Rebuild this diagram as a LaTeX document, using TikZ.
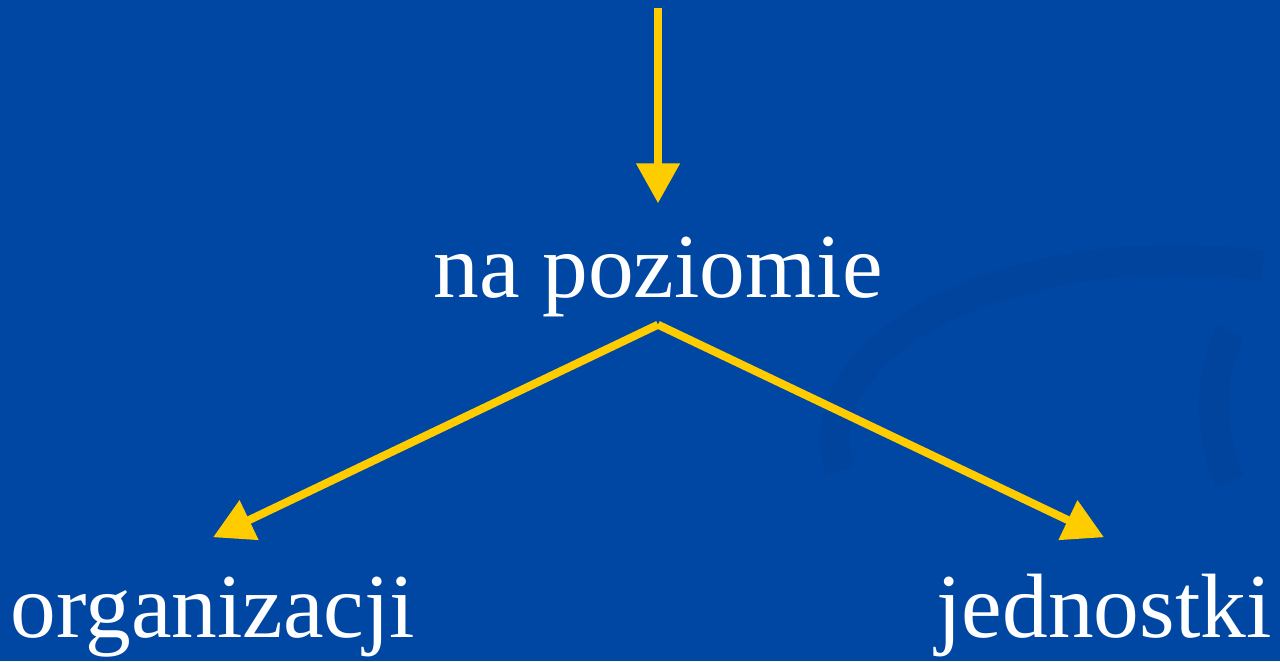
\documentclass[tikz,border=0pt]{standalone}
\usepackage{fontspec}
\setmainfont{Liberation Serif}
\usepackage{xcolor}
\usepackage{tikz}
\usetikzlibrary{arrows.meta,positioning}
\definecolor{slideblue}{HTML}{0047A3}
\definecolor{swooshblue}{HTML}{00449E}
\definecolor{arrowgold}{HTML}{FFCC00}

\begin{document}
\begin{tikzpicture}[
  lbl/.style={inner sep=0pt, anchor=base, text=white, text height=0.99cm,
              text depth=0.27cm, font=\fontsize{26}{30}\selectfont},
  arr/.style={-{Triangle[length=4mm, width=4.2mm]}, arrowgold, line width=0.08cm}]
\fill[slideblue] (0,0) rectangle (12.8,6.61);
\useasboundingbox (0,0) rectangle (12.8,6.61);
% faint swoosh in the background
\draw[swooshblue, line width=0.3cm] (8.4,1.9) arc[start angle=190, end angle=75, x radius=3.4cm, y radius=1.8cm];
\draw[swooshblue, line width=0.3cm] (12.3,1.8) arc[start angle=210, end angle=150, x radius=1.2cm, y radius=1.5cm];
\coordinate (src) at (6.58,6.53);
\node[lbl, text height=0.93cm] (poziom) at (6.58,3.64) {na poziomie};
\node[lbl] (org) at (2.13,0.24) {organizacji};
\node[lbl] (jedn) at (11.04,0.24) {jednostki};
\draw[arr] (src) -- (poziom.north);
\draw[arr] (poziom.south) -- (org.north);
\draw[arr] (poziom.south) -- (jedn.north);
\end{tikzpicture}
\end{document}
